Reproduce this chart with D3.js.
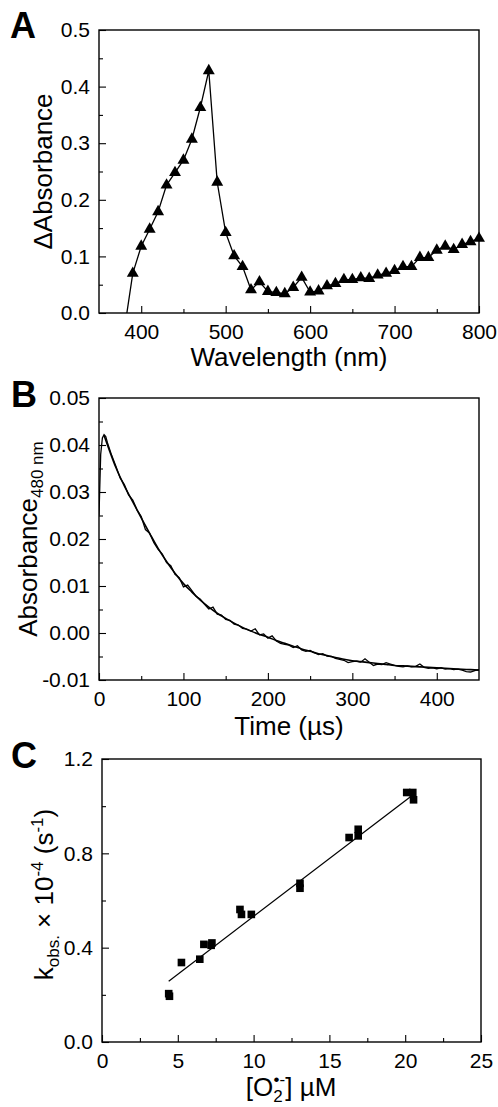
<!DOCTYPE html>
<html lang="en">
  <head>
    <meta charset="UTF-8" />
    <title>Transient absorption and kinetics</title>
    <style>
      body {
        margin: 0;
        background: #fff;
      }
      svg {
        display: block;
        font-family: "Liberation Sans", Arial, sans-serif;
      }
      .frame {
        fill: none;
        stroke: #000;
        stroke-width: 1.4px;
      }
      .tick line {
        stroke: #000;
        stroke-width: 1.1px;
      }
      .tick text {
        font-size: 21px;
        fill: #000;
      }
      .title {
        font-size: 26px;
        fill: #000;
      }
      .letter {
        font-size: 36px;
        font-weight: bold;
      }
    </style>
  </head>
  <body>
    <svg width="498" height="1107"></svg>

    <script src="https://d3js.org/d3.v7.min.js"></script>
    <script>
      // ---- Panel A: difference spectrum ----
      const wavelengths = [
        390, 400, 410, 420, 430, 440, 450, 460, 470, 480, 490, 500, 510, 520,
        530, 540, 550, 560, 570, 580, 590, 600, 610, 620, 630, 640, 650, 660,
        670, 680, 690, 700, 710, 720, 730, 740, 750, 760, 770, 780, 790, 800,
      ];
      const deltaAbs = [
        0.07, 0.118, 0.148, 0.179, 0.226, 0.248, 0.27, 0.307, 0.363, 0.428,
        0.231, 0.142, 0.101, 0.082, 0.041, 0.055, 0.038, 0.036, 0.034, 0.045,
        0.063, 0.037, 0.039, 0.048, 0.052, 0.059, 0.059, 0.062, 0.061, 0.067,
        0.07, 0.075, 0.082, 0.082, 0.098, 0.098, 0.111, 0.118, 0.112, 0.121,
        0.126, 0.132,
      ];
      // the connecting line starts below the axis, left of the first marker
      const spectrumLead = { wl: 380, value: -0.03 };
      const aTicksX = [400, 500, 600, 700, 800];
      const aMinorX = [450, 550, 650, 750];
      const aTicksY = [0, 0.1, 0.2, 0.3, 0.4, 0.5];
      const aMinorY = [0.05, 0.15, 0.25, 0.35, 0.45];

      // ---- Panel B: decay at 480 nm ----
      const traceTime = [
        0, 2, 4, 6, 8, 10, 15, 20, 25, 30, 35, 40, 45, 50, 55, 60, 65, 70, 75,
        80, 85, 90, 95, 100, 105, 110, 115, 120, 125, 130, 135, 140, 145, 150,
        155, 160, 165, 170, 175, 180, 185, 190, 195, 200, 205, 210, 215, 220,
        225, 230, 235, 240, 245, 250, 255, 260, 265, 270, 275, 280, 285, 290,
        295, 300, 305, 310, 315, 320, 325, 330, 335, 340, 345, 350, 355, 360,
        365, 370, 375, 380, 385, 390, 395, 400, 405, 410, 415, 420, 425, 430,
        435, 440, 445, 450,
      ];
      const traceAbs = [
        0.025, 0.038, 0.0415, 0.0422, 0.0418, 0.0405, 0.0378, 0.0355, 0.033,
        0.0316, 0.0294, 0.0283, 0.0262, 0.0248, 0.022, 0.0212, 0.0192, 0.0178,
        0.0168, 0.015, 0.0143, 0.0125, 0.0118, 0.0098, 0.0102, 0.009, 0.0078,
        0.0072, 0.0061, 0.0051, 0.0055, 0.004, 0.0038, 0.0029, 0.0027, 0.0019,
        0.0017, 0.001, 0.0008, 0.0004, 0.0009, -0.0004, -0.0002, -0.0011,
        -0.0006, -0.0017, -0.0022, -0.0024, -0.0026, -0.0031, -0.0027, -0.0036,
        -0.0039, -0.0037, -0.0042, -0.0046, -0.0044, -0.0049, -0.005, -0.0054,
        -0.0056, -0.0058, -0.0063, -0.0061, -0.006, -0.0062, -0.0055, -0.0062,
        -0.0069, -0.0066, -0.0067, -0.0063, -0.0066, -0.0069, -0.0071, -0.0072,
        -0.007, -0.0072, -0.0071, -0.0066, -0.0073, -0.0075, -0.0074, -0.0076,
        -0.0074, -0.0077, -0.0076, -0.0078, -0.0077, -0.0079, -0.0082, -0.0083,
        -0.008, -0.0078,
      ];
      const fitTime = [
        6, 10, 20, 30, 40, 50, 60, 70, 80, 90, 100, 110, 120, 130, 140, 150,
        160, 170, 180, 190, 200, 210, 220, 230, 240, 250, 260, 270, 280, 290,
        300, 310, 320, 330, 340, 350, 360, 370, 380, 390, 400, 410, 420, 430,
        440, 450,
      ];
      const fitAbs = [
        0.042, 0.04, 0.0352, 0.0313, 0.0279, 0.0245, 0.0212, 0.018, 0.0152,
        0.0127, 0.0105, 0.0087, 0.007, 0.0055, 0.0042, 0.0031, 0.0021, 0.0012,
        0.0004, -0.0003, -0.0009, -0.0016, -0.0022, -0.0028, -0.0034, -0.0039,
        -0.0044, -0.0048, -0.0052, -0.0056, -0.0059, -0.0061, -0.0063,
        -0.0065, -0.0067, -0.0069, -0.007, -0.0071, -0.0072, -0.0073, -0.0074,
        -0.0075, -0.0076, -0.0077, -0.0078, -0.0079,
      ];
      const bTicksX = [0, 100, 200, 300, 400];
      const bMinorX = [50, 150, 250, 350];
      const bTicksY = [-0.01, 0, 0.01, 0.02, 0.03, 0.04, 0.05];
      const bMinorY = [-0.005, 0.005, 0.015, 0.025, 0.035, 0.045];

      // ---- Panel C: k_obs vs superoxide ----
      const superoxide = [
        4.4, 4.45, 5.24, 6.45, 6.72, 7.2, 7.25, 9.1, 9.2, 9.85, 13.06, 13.06,
        16.3, 16.9, 16.9, 20.1, 20.5, 20.55,
      ];
      const kObs = [
        0.205, 0.194, 0.337, 0.351, 0.414, 0.41, 0.42, 0.562, 0.541, 0.541,
        0.673, 0.652, 0.867, 0.902, 0.874, 1.058, 1.058, 1.027,
      ];
      const fitO2 = [4.4, 20.37];
      const fitK = [0.258, 1.041];
      const cTicksX = [0, 5, 10, 15, 20, 25];
      const cMinorX = [2.5, 7.5, 12.5, 17.5, 22.5];
      const cTicksY = [0, 0.4, 0.8, 1.2];
      const cMinorY = [0.2, 0.6, 1.0];

      const svg = d3.select("svg");

      function drawFrame(x, y, ticks, fmtX, fmtY) {
        const g = svg.append("g");
        const [x0, x1] = x.range();
        const [yb, yt] = y.range();
        g.append("g")
          .attr("transform", `translate(0,${yb})`)
          .call(d3.axisBottom(x).tickValues(ticks.minorX).tickSize(-4).tickFormat(""));
        g.append("g")
          .attr("transform", `translate(0,${yb})`)
          .call(
            d3.axisBottom(x).tickValues(ticks.x).tickSize(-7).tickPadding(11).tickFormat(fmtX)
          );
        g.append("g")
          .attr("transform", `translate(${x0},0)`)
          .call(d3.axisLeft(y).tickValues(ticks.minorY).tickSize(-4).tickFormat(""));
        g.append("g")
          .attr("transform", `translate(${x0},0)`)
          .call(
            d3.axisLeft(y).tickValues(ticks.y).tickSize(-7).tickPadding(9).tickFormat(fmtY)
          );
        g.selectAll(".domain").remove();
        g.selectAll("g").attr("font-size", null).attr("font-family", null);
        g.append("rect")
          .attr("class", "frame")
          .attr("x", x0)
          .attr("y", yt)
          .attr("width", x1 - x0)
          .attr("height", yb - yt);
        return g;
      }

      function clip(id, x, y) {
        const [x0, x1] = x.range();
        const [yb, yt] = y.range();
        svg.append("clipPath")
          .attr("id", id)
          .append("rect")
          .attr("x", x0)
          .attr("y", yt)
          .attr("width", x1 - x0)
          .attr("height", yb - yt);
        return svg.append("g").attr("clip-path", `url(#${id})`);
      }

      // ---------- A ----------
      const xA = d3.scaleLinear().domain([350, 800]).range([99, 479]);
      const yA = d3.scaleLinear().domain([0, 0.5]).range([313, 30]);
      drawFrame(
        xA,
        yA,
        { x: aTicksX, minorX: aMinorX, y: aTicksY, minorY: aMinorY },
        d3.format("d"),
        d3.format(".1f")
      );
      const spec = [{ wl: spectrumLead.wl, v: spectrumLead.value }].concat(
        wavelengths.map((w, i) => ({ wl: w, v: deltaAbs[i] }))
      );
      const plotA = clip("clipA", xA, yA);
      plotA
        .append("path")
        .datum(spec)
        .attr("fill", "none")
        .attr("stroke", "#000")
        .attr("stroke-width", 1.3)
        .attr("d", d3.line().x((d) => xA(d.wl)).y((d) => yA(d.v)));
      svg
        .append("g")
        .selectAll("path")
        .data(spec.slice(1))
        .join("path")
        .attr("transform", (d) => `translate(${xA(d.wl)},${yA(d.v)})`)
        .attr("d", d3.symbol(d3.symbolTriangle, 62))
        .attr("fill", "#000");

      svg.append("text").attr("class", "letter").attr("x", 10).attr("y", 38).text("A");
      svg
        .append("text")
        .attr("class", "title")
        .attr("text-anchor", "middle")
        .attr("transform", `translate(52,${(313 + 30) / 2}) rotate(-90)`)
        .text("\u0394Absorbance");
      svg
        .append("text")
        .attr("class", "title")
        .attr("text-anchor", "middle")
        .attr("x", 289)
        .attr("y", 366)
        .text("Wavelength (nm)");

      // ---------- B ----------
      const xB = d3.scaleLinear().domain([0, 450]).range([99, 479]);
      const yB = d3.scaleLinear().domain([-0.01, 0.05]).range([680, 398]);
      drawFrame(
        xB,
        yB,
        { x: bTicksX, minorX: bMinorX, y: bTicksY, minorY: bMinorY },
        d3.format("d"),
        (d) => d3.format(".2f")(d).replace("\u2212", "-")
      );
      const plotB = clip("clipB", xB, yB);
      plotB
        .append("path")
        .datum(traceTime.map((t, i) => [t, traceAbs[i]]))
        .attr("fill", "none")
        .attr("stroke", "#000")
        .attr("stroke-width", 1.3)
        .attr("d", d3.line().x((d) => xB(d[0])).y((d) => yB(d[1])));
      plotB
        .append("path")
        .datum(fitTime.map((t, i) => [t, fitAbs[i]]))
        .attr("fill", "none")
        .attr("stroke", "#000")
        .attr("stroke-width", 1.6)
        .attr("d", d3.line().curve(d3.curveMonotoneX).x((d) => xB(d[0])).y((d) => yB(d[1])));

      svg.append("text").attr("class", "letter").attr("x", 11).attr("y", 407).text("B");
      const labB = svg
        .append("text")
        .attr("class", "title")
        .attr("text-anchor", "middle")
        .attr("transform", `translate(37,${(680 + 398) / 2}) rotate(-90)`);
      labB.append("tspan").text("Absorbance");
      labB.append("tspan").attr("dy", 6).attr("font-size", 17).text("480 nm");
      svg
        .append("text")
        .attr("class", "title")
        .attr("text-anchor", "middle")
        .attr("x", 289)
        .attr("y", 735)
        .text("Time (\u00b5s)");

      // ---------- C ----------
      const xC = d3.scaleLinear().domain([0, 25]).range([102, 481]);
      const yC = d3.scaleLinear().domain([0, 1.2]).range([1042, 759]);
      drawFrame(
        xC,
        yC,
        { x: cTicksX, minorX: cMinorX, y: cTicksY, minorY: cMinorY },
        d3.format("d"),
        d3.format(".1f")
      );
      svg
        .append("line")
        .attr("x1", xC(fitO2[0]))
        .attr("y1", yC(fitK[0]))
        .attr("x2", xC(fitO2[1]))
        .attr("y2", yC(fitK[1]))
        .attr("stroke", "#000")
        .attr("stroke-width", 1.2);
      svg
        .append("g")
        .selectAll("path")
        .data(superoxide.map((s, i) => [s, kObs[i]]))
        .join("path")
        .attr("transform", (d) => `translate(${xC(d[0])},${yC(d[1])})`)
        .attr("d", d3.symbol(d3.symbolSquare, 58))
        .attr("fill", "#000");

      svg.append("text").attr("class", "letter").attr("x", 11).attr("y", 768).text("C");
      const labC = svg
        .append("text")
        .attr("class", "title")
        .attr("text-anchor", "middle")
        .attr("transform", `translate(53,${(1042 + 759) / 2 - 6}) rotate(-90)`);
      labC.append("tspan").text("k");
      labC.append("tspan").attr("dy", 6).attr("font-size", 17).text("obs.");
      labC.append("tspan").attr("dy", -6).text(" \u00d7 10");
      labC.append("tspan").attr("dy", -10).attr("font-size", 17).text("-4");
      labC.append("tspan").attr("dy", 10).text(" (s");
      labC.append("tspan").attr("dy", -10).attr("font-size", 17).text("-1");
      labC.append("tspan").attr("dy", 10).text(")");

      const labX = svg
        .append("text")
        .attr("class", "title")
        .attr("text-anchor", "middle")
        .attr("x", 291)
        .attr("y", 1096);
      labX.append("tspan").text("[O");
      labX.append("tspan").attr("dy", 6).attr("font-size", 17).text("2");
      labX.append("tspan").attr("dx", -9).attr("dy", -17).attr("font-size", 17).text("\u2022-");
      labX.append("tspan").attr("dy", 11).text("] \u00b5M");
    </script>
  </body>
</html>
